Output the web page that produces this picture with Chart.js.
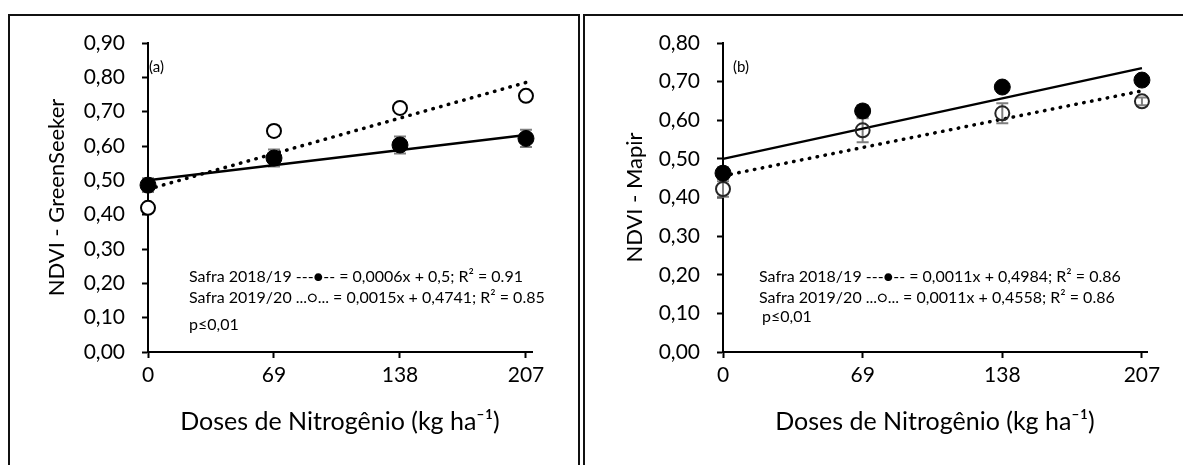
<!DOCTYPE html>
<html>
<head>
<meta charset="utf-8">
<script src="https://cdn.jsdelivr.net/npm/chart.js@4.4.1/dist/chart.umd.min.js"></script>
<style>
  body { margin: 0; background: #fff; overflow: hidden; }
  #wrap { position: relative; width: 1183px; height: 465px; overflow: hidden; }
  .panel { position: absolute; top: 14px; height: 520px; border: 2px solid #111; box-sizing: border-box; }
  canvas { position: absolute; top: 0; }
</style>
</head>
<body>
<div id="wrap">
  <div class="panel" style="left:8px;width:572px"></div>
  <div class="panel" style="left:583px;width:640px"></div>
  <canvas id="chartA" width="578" height="465" style="left:0"></canvas>
  <canvas id="chartB" width="598" height="465" style="left:585px"></canvas>
</div>
<script>
// doses de N (kg/ha)
const doses = [0, 69, 138, 207];
const trendX = [0, 207];
const xTitle = 'Doses de Nitrogênio (kg ha⁻¹)';

// (a) GreenSeeker
const gs1819 = [0.486, 0.565, 0.603, 0.622];
const gs1819Err = [0.02, 0.025, 0.025, 0.025];
const gs1920 = [0.42, 0.644, 0.711, 0.746];
const gs1920Err = [0.01, 0.015, 0.01, 0.01];
const gsTrend1819 = [0.50, 0.632];
const gsTrend1920 = [0.474, 0.785];
const gsNotes = [
  'Safra 2018/19 ---●-- = 0,0006x + 0,5; R² = 0.91',
  'Safra 2019/20 ...○... = 0,0015x + 0,4741; R² = 0.85',
  'p≤0,01'
];

// (b) Mapir
const mp1819 = [0.463, 0.624, 0.686, 0.704];
const mp1819Err = [0.015, 0.015, 0.01, 0.01];
const mp1920 = [0.422, 0.574, 0.618, 0.649];
const mp1920Err = [0.02, 0.031, 0.026, 0.01];
const mpTrend1819 = [0.50, 0.735];
const mpTrend1920 = [0.456, 0.676];
const mpNotes = [
  'Safra 2018/19 ---●-- = 0,0011x + 0,4984; R² = 0.86',
  'Safra 2019/20 ...○... = 0,0011x + 0,4558; R² = 0.86',
  'p≤0,01'
];

Chart.defaults.font.family = 'Lato, "Open Sans", sans-serif';
Chart.defaults.color = '#000';

const pts = (xs, ys) => xs.map((x, i) => ({ x: x, y: ys[i] }));

// grey error bars, drawn under the markers
const errorBars = {
  id: 'errorBars',
  beforeDatasetsDraw(chart) {
    const ctx = chart.ctx, y = chart.scales.y;
    chart.data.datasets.forEach((ds, i) => {
      if (!ds.errors) return;
      const meta = chart.getDatasetMeta(i);
      ctx.save();
      ctx.strokeStyle = '#7f7f7f';
      ctx.lineWidth = 2;
      meta.data.forEach((pt, j) => {
        const v = ds.data[j].y, e = ds.errors[j];
        const top = y.getPixelForValue(v + e), bot = y.getPixelForValue(v - e);
        ctx.beginPath();
        ctx.moveTo(pt.x, top); ctx.lineTo(pt.x, bot);
        ctx.moveTo(pt.x - 6, top); ctx.lineTo(pt.x + 6, top);
        ctx.moveTo(pt.x - 6, bot); ctx.lineTo(pt.x + 6, bot);
        ctx.stroke();
      });
      ctx.restore();
    });
  }
};

// panel letter + equations
const notes = {
  id: 'notes',
  afterDraw(chart, args, opts) {
    const ctx = chart.ctx, a = chart.chartArea;
    ctx.save();
    ctx.fillStyle = '#000';
    ctx.textBaseline = 'middle';
    opts.items.forEach(n => {
      ctx.font = n.size + 'px Lato, "DejaVu Sans", sans-serif';
      ctx.fillText(n.text, a.left + n.dx, n.y);
    });
    ctx.restore();
  }
};

function makeChart(id, c) {
  const axisGrid = { drawOnChartArea: false, tickLength: 6, tickWidth: 2, color: '#000' };
  const axisBorder = { color: '#000', width: 2 };
  return new Chart(document.getElementById(id), {
    type: 'scatter',
    data: {
      datasets: [
        { data: pts(doses, c.s1), errors: c.e1, pointRadius: 8, pointHoverRadius: 8,
          backgroundColor: '#000', borderColor: '#000', borderWidth: 1, clip: false },
        { data: pts(doses, c.s2), errors: c.e2, pointRadius: 7, pointHoverRadius: 7,
          backgroundColor: c.openFill, borderColor: c.openLine, borderWidth: 2, clip: false },
        { data: pts(trendX, c.t1), showLine: true, pointRadius: 0, borderColor: '#000',
          borderWidth: 2.5, clip: false },
        { data: pts(trendX, c.t2), showLine: true, pointRadius: 0, borderColor: '#000',
          borderWidth: 3.5, borderDash: [0.5, 7.5], borderCapStyle: 'round', clip: false }
      ]
    },
    options: {
      responsive: false,
      animation: false,
      layout: { padding: { top: 43, right: c.padRight, left: 0, bottom: 0 } },
      plugins: {
        legend: { display: false },
        tooltip: { enabled: false },
        notes: { items: c.notes }
      },
      scales: {
        x: {
          type: 'linear',
          min: 0,
          max: c.xmax,
          afterBuildTicks: (s) => { s.ticks = doses.map(v => ({ value: v })); },
          afterFit: (s) => { s.height = 113; },
          ticks: { padding: 5, font: { size: 21 }, callback: v => v },
          grid: axisGrid,
          border: axisBorder,
          title: { display: true, text: xTitle, font: { size: 25 }, padding: { bottom: 28 } }
        },
        y: {
          min: 0,
          max: c.ymax,
          afterFit: (s) => { s.width = c.yWidth; },
          ticks: { stepSize: 0.1, padding: 17, font: { size: 21 },
            callback: v => v.toFixed(2).replace('.', ',') },
          grid: axisGrid,
          border: axisBorder,
          title: { display: true, text: c.yTitle, font: { size: 22 }, padding: { top: c.yTitlePad } }
        }
      }
    },
    plugins: [errorBars, notes]
  });
}

makeChart('chartA', {
  s1: gs1819, e1: gs1819Err, s2: gs1920, e2: gs1920Err,
  t1: gsTrend1819, t2: gsTrend1920,
  openFill: '#fff', openLine: '#000',
  ymax: 0.9, xmax: 210.3, yWidth: 148, padRight: 46,
  yTitle: 'NDVI - GreenSeeker', yTitlePad: 44,
  notes: [
    { text: '(a)', dx: 1, y: 67, size: 15 },
    { text: gsNotes[0], dx: 41, y: 277, size: 16 },
    { text: gsNotes[1], dx: 41, y: 298, size: 16 },
    { text: gsNotes[2], dx: 41, y: 325, size: 16 }
  ]
});

makeChart('chartB', {
  s1: mp1819, e1: mp1819Err, s2: mp1920, e2: mp1920Err,
  t1: mpTrend1819, t2: mpTrend1920,
  openFill: 'rgba(0,0,0,0)', openLine: '#262626',
  ymax: 0.8, xmax: 209.5, yWidth: 138, padRight: 36,
  yTitle: 'NDVI - Mapir', yTitlePad: 37,
  notes: [
    { text: '(b)', dx: 10, y: 67, size: 15 },
    { text: mpNotes[0], dx: 36, y: 277, size: 16 },
    { text: mpNotes[1], dx: 36, y: 298, size: 16 },
    { text: mpNotes[2], dx: 39, y: 317, size: 16 }
  ]
});
</script>
</body>
</html>
